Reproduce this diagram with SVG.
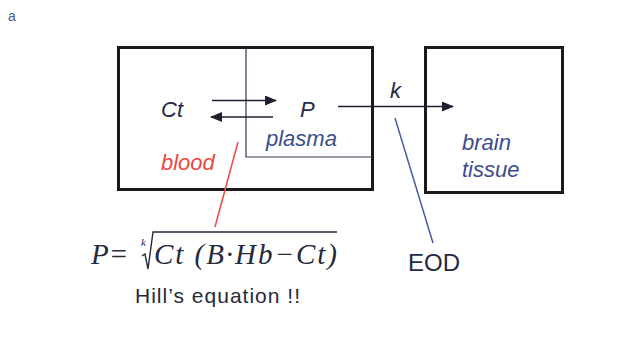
<svg xmlns="http://www.w3.org/2000/svg" width="629" height="346" viewBox="0 0 629 346">
<defs>
<marker id="ah" markerWidth="12" markerHeight="10" refX="11" refY="5" orient="auto" markerUnits="userSpaceOnUse">
<path d="M0,0 L12,5 L0,10 Z" fill="#1e2030"/>
</marker>
<style>
.box{fill:none;stroke:#1a1a1a;stroke-width:3}
.thin{fill:none;stroke:#2e3850;stroke-width:1.2}
.arr{stroke:#1e2030;stroke-width:1.6;fill:none}
.lbl{font-family:"Liberation Sans",Arial,sans-serif;font-style:italic;font-size:22px}
.dark{fill:#262a45}
.blue{fill:#3b4c8c}
.red{fill:#ea4a42}
.eq{font-family:"Liberation Serif","Times New Roman",serif;font-style:italic;font-size:29px;fill:#262a3a}
</style>
</defs>
<rect width="629" height="346" fill="#ffffff"/>
<text x="8" y="21" font-family="Liberation Sans,Arial,sans-serif" font-size="14" fill="#4a5a8a">a</text>
<g id="blood">
<rect class="box" x="118.5" y="47.5" width="254" height="142"/>
<text class="lbl red" x="161" y="170">blood</text>
</g>
<g id="plasma">
<polyline class="thin" points="246,48 246,157 372,157"/>
<text class="lbl blue" x="266" y="146">plasma</text>
</g>
<g id="brain">
<rect class="box" x="425.5" y="47.5" width="137" height="145"/>
<text class="lbl blue" x="462" y="150">brain</text>
<text class="lbl blue" x="462" y="177">tissue</text>
</g>
<g id="ct"><text class="lbl dark" x="161" y="117">Ct</text></g>
<g id="p"><text class="lbl dark" x="300" y="117">P</text></g>
<g id="connectors">
<line class="arr" x1="212" y1="100.5" x2="276" y2="100.5" marker-end="url(#ah)"/>
<line class="arr" x1="273" y1="117" x2="211" y2="117" marker-end="url(#ah)"/>
<line class="arr" x1="338" y1="106.5" x2="453" y2="106.5" marker-end="url(#ah)"/>
<line x1="395" y1="118" x2="433" y2="243" stroke="#4a5aa0" stroke-width="1.5"/>
<line x1="238" y1="142" x2="215" y2="227" stroke="#ea4a42" stroke-width="1.5"/>
</g>
<text class="lbl dark" x="390" y="98">k</text>
<g id="eod"><text x="408" y="271" font-family="Liberation Sans,Arial,sans-serif" font-size="24" fill="#262a45">EOD</text></g>
<g id="equation">
<text class="eq" x="91" y="264">P=</text>
<text x="141" y="246" font-family="Liberation Serif,serif" font-style="italic" font-size="11" fill="#262a3a">k</text>
<polyline points="142,256 145,254 148,269 153,232 337,232" fill="none" stroke="#262a3a" stroke-width="1.4"/>
<text class="eq" x="154" y="264" textLength="183" lengthAdjust="spacing">Ct (B·Hb−Ct)</text>
<text x="135" y="303" font-family="Liberation Sans,Arial,sans-serif" font-size="21" fill="#262a3a" textLength="165" lengthAdjust="spacing">Hill’s equation !!</text>
</g>
</svg>
